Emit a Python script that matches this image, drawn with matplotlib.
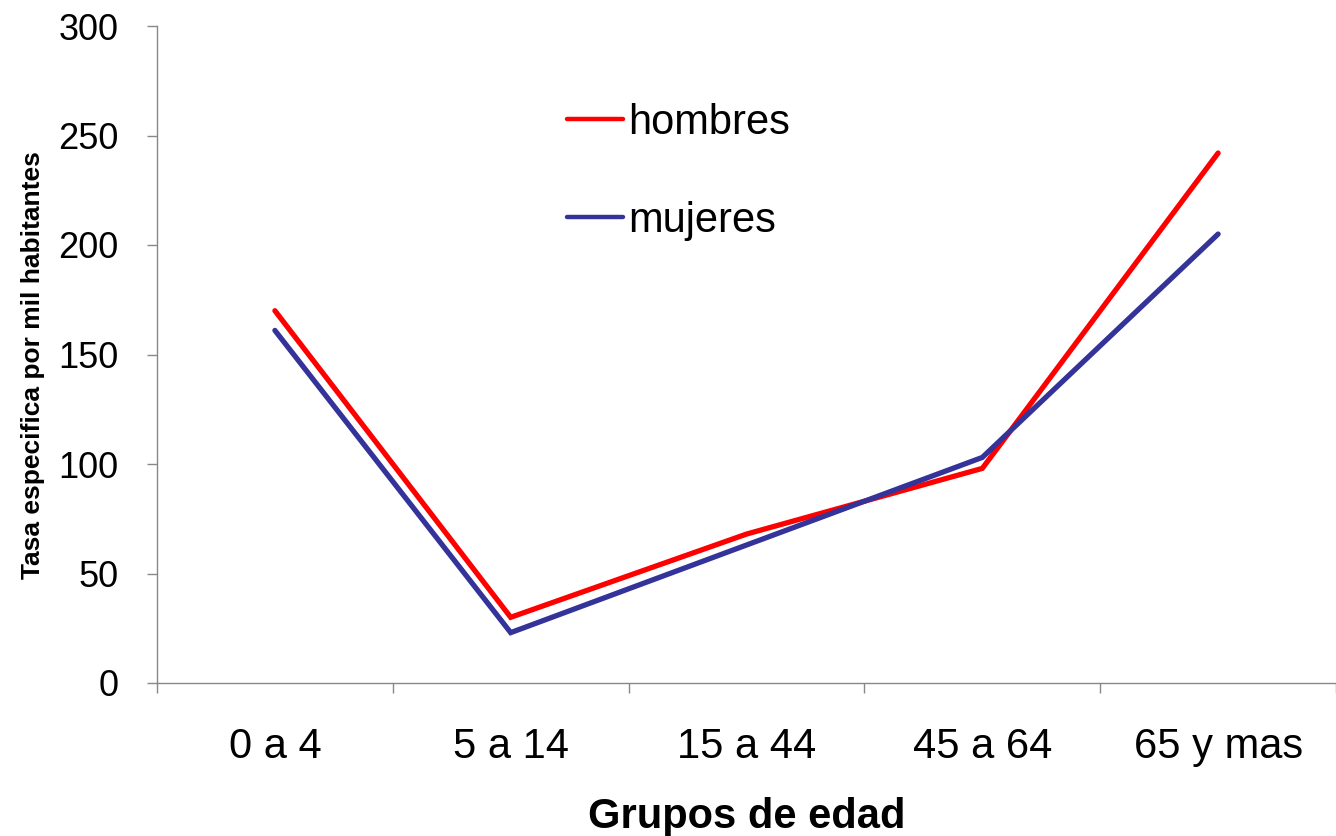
import matplotlib
matplotlib.use("Agg")
import matplotlib.pyplot as plt

categories = ["0 a 4", "5 a 14", "15 a 44", "45 a 64", "65 y mas"]
hombres = [170, 30, 68, 98, 242]
mujeres = [161, 23, 63, 103, 205]
yticks = [0, 50, 100, 150, 200, 250, 300]

plt.rcParams['font.family'] = ['Liberation Sans', 'DejaVu Sans']

fig = plt.figure(figsize=(13.36, 8.36), dpi=100)
ax = fig.add_axes([157/1336, (836-683)/836, (1336-157)/1336, (683-26)/836])

x = list(range(len(categories)))
ax.plot(x, hombres, color='#FF0000', lw=3.8, label='hombres', solid_capstyle='round', solid_joinstyle='miter')
ax.plot(x, mujeres, color='#333399', lw=3.8, label='mujeres', solid_capstyle='round', solid_joinstyle='miter')

ax.set_xlim(-0.5, 4.454)
ax.set_ylim(0, 300)
ax.set_yticks(yticks)
ax.set_xticks([i + 0.5 for i in range(-1, 5)], minor=False)
ax.set_xticklabels([])
ax.set_xticks(x, minor=True)
ax.set_xticklabels(categories, minor=True)
ax.tick_params(axis='x', which='major', direction='out', length=7, color='#888888', width=1)
ax.tick_params(axis='x', which='minor', length=0, pad=32, labelsize=30)
ax.tick_params(axis='y', direction='out', length=7.5, color='#888888', width=1, labelsize=26, pad=20)

for s in ['top', 'right']:
    ax.spines[s].set_visible(False)
for s in ['left', 'bottom']:
    ax.spines[s].set_color('#888888')
    ax.spines[s].set_linewidth(1)

ax.set_xlabel('Grupos de edad', fontsize=30, fontweight='bold', labelpad=21)
ax.set_ylabel('Tasa especifica por mil habitantes', fontsize=19, fontweight='bold', labelpad=10)
ax.yaxis.label.set_y(0.484)

leg = ax.legend(loc='upper left', bbox_to_anchor=(0.348, 0.883), frameon=False, fontsize=30,
                handlelength=1.34, handletextpad=0.12, labelspacing=1.39, borderaxespad=0, borderpad=0)
for h in leg.get_lines():
    h.set_linewidth(3.2)

fig.savefig('out.png', dpi=100)
